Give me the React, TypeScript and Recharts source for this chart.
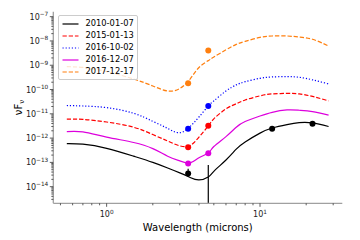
import React from 'react';
import { ComposedChart, Line, Scatter, XAxis, YAxis, Legend, Label } from 'recharts';

// model SED sampling (microns)
const wavelengths = [0.55, 0.7, 1.0, 1.5, 2.0, 2.5, 3.0, 3.5, 4.0, 4.6, 5, 6, 7, 8, 10, 12, 15, 18, 22, 28];

const sed20100107 = [5.9e-13, 5.6e-13, 3.8e-13, 1.8e-13, 1.0e-13, 5.9e-14, 3.7e-14, 2.4e-14, 1.9e-14, 2.5e-14, 4.3e-14, 1.26e-13, 3.5e-13, 6.9e-13, 1.6e-12, 2.6e-12, 3.6e-12, 4.3e-12, 4.2e-12, 3.0e-12];
const sed20150113 = [6.0e-12, 5.9e-12, 4.6e-12, 2.8e-12, 1.4e-12, 7.6e-13, 4.8e-13, 5.0e-13, 1.1e-12, 3.2e-12, 6.2e-12, 1.6e-11, 2.6e-11, 3.7e-11, 5.5e-11, 6.6e-11, 6.9e-11, 6.6e-11, 5.2e-11, 3.4e-11];
const sed20161002 = [2.2e-11, 2.1e-11, 1.8e-11, 1.05e-11, 4.9e-12, 2.5e-12, 1.66e-12, 3.0e-12, 7.4e-12, 2.1e-11, 3.4e-11, 8.7e-11, 1.55e-10, 2.1e-10, 2.9e-10, 3.3e-10, 3.4e-10, 3.2e-10, 2.5e-10, 1.7e-10];
const sed20161207 = [1.85e-12, 1.8e-12, 1.1e-12, 6.6e-13, 3.7e-13, 1.8e-13, 1.15e-13, 9.5e-14, 1.55e-13, 2.45e-13, 4.5e-13, 1.15e-12, 2.8e-12, 4.8e-12, 8.1e-12, 1.15e-11, 1.44e-11, 1.4e-11, 1.23e-11, 8.9e-12];
const sed20171217 = [8.7e-10, 8.1e-10, 5.5e-10, 2.7e-10, 1.4e-10, 8.7e-11, 1.1e-10, 2.7e-10, 8.1e-10, 1.55e-9, 2.2e-9, 4.3e-9, 7.2e-9, 9.6e-9, 1.4e-8, 1.6e-8, 1.6e-8, 1.45e-8, 1.17e-8, 6.2e-9];

// photometry
const photWave = [3.4, 4.6];
const phot20100107Wave = [3.4, 12, 22];
const phot20100107 = [3.5e-14, 2.4e-12, 3.9e-12];
const phot20150113 = [4.2e-13, 3.2e-12];
const phot20161002 = [2.4e-12, 2.1e-11];
const phot20161207 = [9.1e-14, 2.4e-13];
const phot20171217 = [1.8e-10, 4.0e-9];

// 2010 error bars
const errWave = [3.4, 4.6];
const errLow = [2.6e-14, 2.07e-15];
const errHigh = [5.5e-14, 7.9e-14];

const xMajor = [1, 10];
const xMinor = [0.5, 0.6, 0.7, 0.8, 0.9, 2, 3, 4, 5, 6, 7, 8, 9, 20, 30];
const yMajor = [1e-14, 1e-13, 1e-12, 1e-11, 1e-10, 1e-9, 1e-8, 1e-7];
const yMinor = [-15, -14, -13, -12, -11, -10, -9, -8, -7].flatMap((e) =>
  [2, 3, 4, 5, 6, 7, 8, 9].map((m) => m * Math.pow(10, e))
).filter((v) => v > 2.07e-15 && v < 1.6e-7);

const series = [
  { name: '2010-01-07', color: '#000000', dash: undefined, curve: sed20100107, px: phot20100107Wave, py: phot20100107 },
  { name: '2015-01-13', color: '#ff0000', dash: '4.3 1.9', curve: sed20150113, px: photWave, py: phot20150113 },
  { name: '2016-10-02', color: '#0000ff', dash: '1.2 1.9', curve: sed20161002, px: photWave, py: phot20161002 },
  { name: '2016-12-07', color: '#dd00dd', dash: undefined, curve: sed20161207, px: photWave, py: phot20161207 },
  { name: '2017-12-17', color: '#ff7f0e', dash: '4.3 1.9', curve: sed20171217, px: photWave, py: phot20171217 },
];

const FONT = '"DejaVu Sans", sans-serif';
const SPINE = '#a0a0a0';

const Power = ({ v }: { v: number }) => {
  const e = Math.round(Math.log10(v));
  return (
    <>
      <tspan>10</tspan>
      <tspan dy={-3.6} fontSize={5.8}>{e < 0 ? '\u2212' + -e : String(e)}</tspan>
    </>
  );
};

const XTick = (props: any) => {
  const { x, y, payload } = props;
  const major = xMajor.includes(payload.value);
  return (
    <g>
      <line x1={x} x2={x} y1={y} y2={y + (major ? 3.5 : 2)} stroke="#333" strokeWidth={0.8} />
      {major && (
        <text x={x} y={y + 14} textAnchor="middle" fontSize={8} fontFamily={FONT} fill="#222">
          <Power v={payload.value} />
        </text>
      )}
    </g>
  );
};

const YTick = (props: any) => {
  const { x, y, payload } = props;
  const major = yMajor.some((m) => Math.abs(m - payload.value) / m < 1e-6);
  return (
    <g>
      <line x1={x} x2={x - (major ? 3.5 : 2)} y1={y} y2={y} stroke="#333" strokeWidth={0.8} />
      {major && (
        <text x={x - 5} y={y + 3} textAnchor="end" fontSize={8} fontFamily={FONT} fill="#222">
          <Power v={payload.value} />
        </text>
      )}
    </g>
  );
};

const YLabel = (props: any) => {
  const vb = props.viewBox || { x: 0, y: 11.7, height: 191.6 };
  const cx = vb.x + 22;
  const cy = vb.y + vb.height / 2;
  return (
    <text x={cx} y={cy} transform={`rotate(-90, ${cx}, ${cy})`} textAnchor="middle" fontSize={10} fontFamily={FONT} fill="#000">
      νF<tspan fontSize={7} dy={2}>ν</tspan>
    </text>
  );
};

const LegendBox = () => (
  <div
    style={{
      background: 'rgba(255,255,255,0.8)',
      border: '1px solid #cccccc',
      borderRadius: 2,
      padding: '2px 3px 2px 3px',
      fontFamily: FONT,
      fontSize: 8.3,
      color: '#000',
      whiteSpace: 'nowrap',
    }}
  >
    {series.map((s) => (
      <div key={s.name} style={{ display: 'flex', alignItems: 'center', height: 11.9 }}>
        <svg width={17} height={11.9} style={{ marginRight: 6.5 }}>
          <line x1={0.5} x2={16.5} y1={6} y2={6} stroke={s.color} strokeWidth={1.2} strokeDasharray={s.dash} />
        </svg>
        <span style={{ lineHeight: '11.9px' }}>{s.name}</span>
      </div>
    ))}
  </div>
);

const Dot = (color: string) => (p: any) => <circle cx={p.cx} cy={p.cy} r={3} fill={color} />;

export default function App() {
  return (
    <div style={{ position: 'relative', width: 360, height: 240 }}>
      <style>{'body{margin:0}'}</style>
      <ComposedChart width={360} height={240} margin={{ top: 11.7, right: 17.7, left: 0, bottom: 0 }}>
        <XAxis
          dataKey="x"
          type="number"
          scale="log"
          domain={[0.449, 34.4]}
          allowDataOverflow
          ticks={[...xMajor, ...xMinor]}
          interval={0}
          tick={<XTick />}
          tickSize={0}
          tickMargin={0}
          tickLine={false}
          axisLine={{ stroke: SPINE, strokeWidth: 1.3 }}
          height={36.7}
        >
          <Label value="Wavelength (microns)" position="insideBottom" offset={9} fontSize={10} fontFamily={FONT} fill="#000" />
        </XAxis>
        <XAxis
          xAxisId="top"
          orientation="top"
          type="number"
          scale="log"
          domain={[0.449, 34.4]}
          allowDataOverflow
          height={0}
          tick={false}
          tickLine={false}
          axisLine={{ stroke: SPINE, strokeWidth: 1.3 }}
        />
        <YAxis
          type="number"
          scale="log"
          domain={[2.07e-15, 1.6e-7]}
          allowDataOverflow
          ticks={[...yMajor, ...yMinor]}
          interval={0}
          tick={<YTick />}
          tickSize={0}
          tickMargin={0}
          tickLine={false}
          axisLine={{ stroke: SPINE, strokeWidth: 1.3 }}
          width={53.3}
        >
          <Label content={<YLabel />} />
        </YAxis>
        <YAxis
          yAxisId="right"
          orientation="right"
          type="number"
          scale="log"
          domain={[2.07e-15, 1.6e-7]}
          allowDataOverflow
          width={0}
          tick={false}
          tickLine={false}
          axisLine={{ stroke: SPINE, strokeWidth: 1.3 }}
        />
        <Legend
          layout="vertical"
          align="center"
          verticalAlign="middle"
          content={<LegendBox />}
          wrapperStyle={{ left: 58, top: 15, width: 'auto', height: 'auto' }}
        />
        {series.map((s) => (
          <Line
            key={s.name}
            name={s.name}
            data={wavelengths.map((x, i) => ({ x, y: s.curve[i] }))}
            dataKey="y"
            type="natural"
            stroke={s.color}
            strokeWidth={1.2}
            strokeDasharray={s.dash}
            dot={false}
            activeDot={false}
            isAnimationActive={false}
          />
        ))}
        {errWave.map((x, i) => (
          <Line
            key={'err' + i}
            data={[{ x, y: errLow[i] }, { x, y: errHigh[i] }]}
            dataKey="y"
            type="linear"
            stroke="#000"
            strokeWidth={1.2}
            dot={false}
            activeDot={false}
            legendType="none"
            isAnimationActive={false}
          />
        ))}
        {series.map((s) => (
          <Scatter
            key={'p' + s.name}
            data={s.px.map((x, i) => ({ x, y: s.py[i] }))}
            dataKey="y"
            fill={s.color}
            shape={Dot(s.color)}
            legendType="none"
            isAnimationActive={false}
          />
        ))}
      </ComposedChart>
    </div>
  );
}
